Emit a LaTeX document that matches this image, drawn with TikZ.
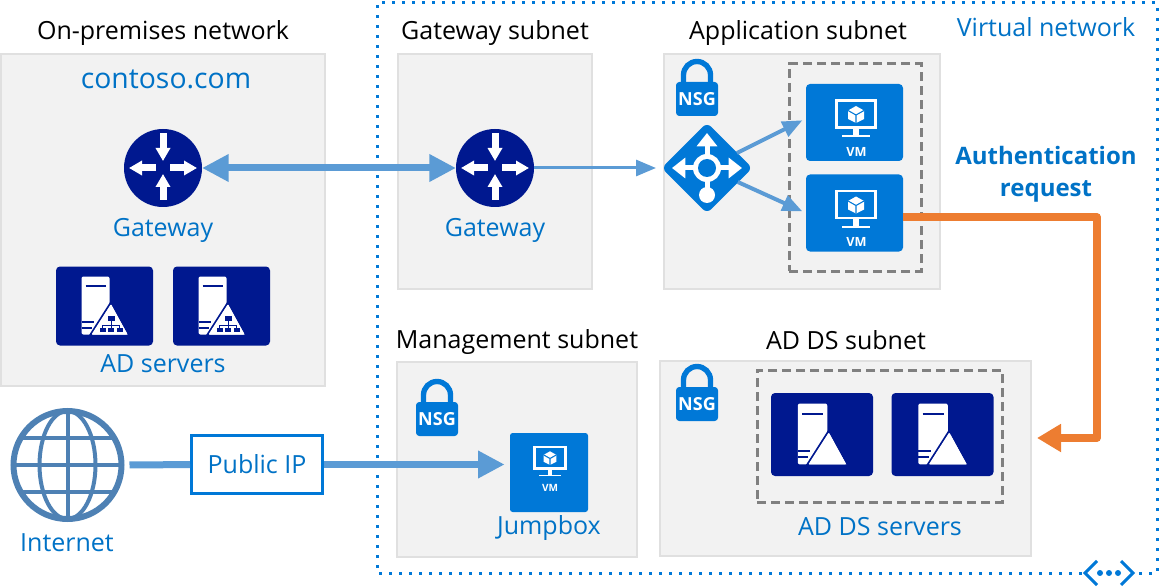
\documentclass[tikz,border=0pt]{standalone}
\usepackage{fontspec}
\setmainfont{Open Sans}
\usetikzlibrary{arrows.meta,shapes.geometric}
\definecolor{azure}{HTML}{0078D7}
\definecolor{navy}{HTML}{00188F}
\definecolor{labelblue}{HTML}{0072C6}
\definecolor{flowblue}{HTML}{5B9BD5}
\definecolor{authorange}{HTML}{ED7D31}
\definecolor{panelgray}{HTML}{F2F2F2}
\definecolor{globeblue}{HTML}{4E81B4}
\tikzset{
    panel/.style={draw=black!12, line width=1pt, fill=panelgray},
    heading/.style={text=black, inner sep=0pt, font=\fontsize{18.75}{20}\selectfont},
    caption/.style={text=labelblue, inner sep=0pt, font=\fontsize{18.75}{20}\selectfont},
    groupbox/.style={draw=black!50, line width=2.25pt, dash pattern=on 7pt off 3.5pt},
    vnetline/.style={azure, line width=2.25pt, dash pattern=on 2.25pt off 5.25pt},
    router/.style={circle, fill=navy, minimum size=58.5pt, inner sep=0pt, outer sep=0pt},
    balancer/.style={diamond, aspect=1, fill=azure, draw=azure, line width=9pt, line join=round, minimum size=55.5pt, inner sep=0pt, outer sep=0pt},
    vmbox/.style={rectangle, rounded corners=3pt, fill=azure, minimum width=72.75pt, minimum height=57.75pt, inner sep=0pt, outer sep=0pt},
    jumpbox/.style={vmbox, rounded corners=2pt, minimum width=58.5pt, minimum height=59.25pt},
    adbox/.style={rectangle, rounded corners=3pt, fill=navy, minimum width=72.75pt, minimum height=59.25pt, inner sep=0pt, outer sep=0pt},
    addsbox/.style={adbox, minimum width=76.5pt, minimum height=62.25pt},
    vmtext/.style={text=white, inner sep=0pt, font=\fontsize{9.5}{10}\selectfont\bfseries},
    nsgbox/.style={rectangle, rounded corners=2.5pt, fill=azure, text=white, minimum width=31.5pt, minimum height=25.5pt, inner sep=0pt, outer sep=0pt, font=\fontsize{13.5}{14}\selectfont\bfseries},
    flowline/.style={flowblue, line width=5.25pt, -{Triangle[length=20pt, width=19.5pt]}},
    thinflow/.style={flowblue, line width=2.25pt, -{Triangle[length=15pt, width=12pt]}},
    pics/shackle/.style={code={
        \draw[azure, line width=4pt] (-13.5, 0) -- (-13.5, -7) arc (180:360:13.5) -- (13.5, 0);
    }},
    pics/routerglyph/.style={code={
        \begin{scope}[white, line width=5.25pt, -{Triangle[length=9.75pt, width=10.5pt]}]
            \draw (0, -35) -- (0, -7);
            \draw (0, 32) -- (0, 6);
            \draw (-7, 0) -- (-34, 0);
            \draw (7, 0) -- (34, 0);
        \end{scope}
    }},
    pics/balancerglyph/.style={code={
        \begin{scope}[white, line width=3.75pt]
            \draw[-{Triangle[length=10pt, width=15pt]}] (0, 0) -- (0, -35);
            \draw[-{Triangle[length=10pt, width=15pt]}] (0, 0) -- (-35, 0);
            \draw[-{Triangle[length=10pt, width=15pt]}] (0, 0) -- (35, 0);
            \draw (0, 0) -- (0, 27);
            \fill (0, 27) circle (8);
            \fill (0, 0) circle (14);
            \fill[azure] (0, 0) circle (9);
        \end{scope}
    }},
    pics/vmglyph/.style={code={
        \draw[white, line width=1.9pt] (-19.5, -22) rectangle (19.5, 5);
        \fill[white] (-3, 6) rectangle (3, 12.5);
        \fill[white] (-14, 12.5) rectangle (14, 14.5);
        \fill[white] (0, -16.5) -- (8, -12) -- (8, -3.5) -- (0, 0.5) -- (-8, -3.5) -- (-8, -12) -- cycle;
        \draw[azure, line width=0.8pt] (-8, -12) -- (0, -7.5) -- (8, -12) (0, -7.5) -- (0, 0.5);
    }},
    pics/adglyph/.style={code={
        \fill[white, rounded corners=1.5pt] (-23, -29.5) rectangle (5, 28.5);
        \draw[navy, line width=1.5pt] (-19, -20) -- (1, -20);
        \draw[navy, line width=1.5pt] (-23, 15.5) -- (-11, 15.5) (-23, 21.5) -- (-13, 21.5);
        \fill[white, draw=navy, line width=1.5pt, line join=round] (6.5, -3.5) -- (25, 29.5) -- (-14.5, 29.5) -- cycle;
        \fill[white, rounded corners=0.75pt] (6.5, -2) -- (23, 28.5) -- (-13, 28.5) -- cycle;
    }},
    pics/netglyph/.style={code={
        \fill[navy] (3, 10) rectangle (10, 15);
        \draw[navy, line width=0.75pt] (6.5, 15) -- (6.5, 22) (-2, 22) -- (-2, 19) -- (15, 19) -- (15, 22);
        \fill[navy] (-5, 22) rectangle (1, 26);
        \fill[navy] (3.5, 22) rectangle (9.5, 26);
        \fill[navy] (12, 22) rectangle (18, 26);
    }},
    pics/globeglyph/.style={code={
        \draw[globeblue, line width=3pt] (0, 0) ellipse (28 and 54);
        \draw[globeblue, line width=3pt] (0, -54) -- (0, 54);
        \draw[globeblue, line width=3pt] (-54, 0) -- (54, 0);
        \draw[globeblue, line width=3pt] (-46.5, -27) -- (46.5, -27);
        \draw[globeblue, line width=3pt] (-46.5, 27) -- (46.5, 27);
    }},
}
\begin{document}
\begin{tikzpicture}[x=0.75pt, y=-0.75pt]
        \useasboundingbox (0, 0) rectangle (1160, 588);

        \draw[panel] (1, 54) rectangle (325, 386);
        \draw[panel] (398, 54) rectangle (592, 289);
        \draw[panel] (664, 54) rectangle (940, 289);
        \draw[panel] (397, 362) rectangle (637, 557);
        \draw[panel] (660, 361) rectangle (1031, 556);
        \draw[vnetline] (1082, 573) -- (377, 573) -- (377, 3) -- (1157, 3) -- (1157, 573) -- (1136, 573);

        \draw[azure, line width=2.25pt] (1097, 561) -- (1085, 573) -- (1097, 585);
        \draw[azure, line width=2.25pt] (1121, 561) -- (1133, 573) -- (1121, 585);
        \fill[azure] (1100, 573) circle (3);
        \fill[azure] (1109, 573) circle (3);
        \fill[azure] (1118, 573) circle (3);

        \node (onpremtitle) at (163, 33.5)[heading] {On-premises network};
        \node (gwtitle) at (495, 33.5)[heading] {Gateway subnet};
        \node (apptitle) at (798, 33.5)[heading] {Application subnet};
        \node (mgmttitle) at (517, 342.5)[heading] {Management subnet};
        \node (addstitle) at (846, 340.5)[heading] {AD DS subnet};
        \node (vnettitle) at (1046, 27)[caption] {Virtual network};
        \node (contoso) at (166, 79.5)[caption, font=\fontsize{21.25}{22}\selectfont] {contoso.com};

        \node (gw1) at (163, 168)[router] {};
        \pic at (gw1) {routerglyph};
        \node (gw1text) at (163, 230.5)[caption] {Gateway};
        \node (gw2) at (495, 168)[router] {};
        \pic at (gw2) {routerglyph};
        \node (gw2text) at (495, 230.5)[caption] {Gateway};

        \node (ad1) at (104.5, 306)[adbox] {};
        \pic at (ad1) {adglyph};
        \pic at (ad1) {netglyph};
        \node (ad2) at (221.5, 306)[adbox] {};
        \pic at (ad2) {adglyph};
        \pic at (ad2) {netglyph};
        \node (adtext) at (163, 364)[caption] {AD servers};

        \node (nsg1) at (697, 99)[nsgbox] {NSG};
        \pic at (nsg1.north) {shackle};
        \node (lb) at (707, 168)[balancer] {};
        \pic at (lb) {balancerglyph};

        \node (vmset) at (855, 167.5)[groupbox, minimum width=99pt, minimum height=155.25pt, inner sep=0pt] {};
        \node (vm1) at (854.5, 122.5)[vmbox] {};
        \pic at (856, 122.5) {vmglyph};
        \node (vm1text) at (856.5, 152)[vmtext] {VM};
        \node (vm2) at (854.5, 213)[vmbox] {};
        \pic at (856, 213) {vmglyph};
        \node (vm2text) at (856.5, 242)[vmtext] {VM};

        \node (nsg2) at (437, 419)[nsgbox] {NSG};
        \pic at (nsg2.north) {shackle};
        \node (jump) at (549, 472.5)[jumpbox] {};
        \pic[scale=0.8] at (550, 464.5) {vmglyph};
        \node (jumpvm) at (550, 488)[vmtext, font=\fontsize{7.5}{8}\selectfont\bfseries] {VM};
        \node (jumptext) at (549, 528.5)[caption] {Jumpbox};

        \node (nsg3) at (697, 404)[nsgbox] {NSG};
        \pic at (nsg3.north) {shackle};
        \node (adset) at (879.5, 436)[groupbox, minimum width=183.75pt, minimum height=99pt, inner sep=0pt] {};
        \node (ads1) at (822, 434.5)[addsbox] {};
        \pic[scale=1.05] at (ads1) {adglyph};
        \node (ads2) at (942.5, 434.5)[addsbox] {};
        \pic[scale=1.05] at (ads2) {adglyph};
        \node (addstext) at (880, 527)[caption] {AD DS servers};

        \node (globe) at (67.5, 465)[circle, draw=globeblue, line width=4.5pt, minimum size=81pt, inner sep=0pt, outer sep=0pt] {};
        \pic at (globe) {globeglyph};
        \node (nettext) at (67, 543)[caption] {Internet};
        \node (pubip) at (257, 464.5)[draw=azure, fill=white, line width=2.25pt, minimum width=98.25pt, minimum height=43.5pt, inner sep=0pt, text=labelblue, font=\fontsize{18.75}{20}\selectfont] {Public IP};

        \node (authtext) at (1046, 174)[text=labelblue, align=center, inner sep=0pt, font=\fontsize{18}{24}\selectfont\bfseries] {Authentication\\request};

        \coordinate (adtip) at (1037, 438);

        \draw[flowline, {Triangle[length=20pt, width=19.5pt]}-{Triangle[length=20pt, width=19.5pt]}] (gw1) -- (gw2);
        \draw[thinflow, shorten >=10.5pt] (gw2) -- (lb);
        \draw[flowblue, line width=3pt, shorten <=4.5pt, shorten >=3pt, -{Triangle[length=15pt, width=12pt]}] (lb) -- ([yshift=3pt]vm1.west);
        \draw[flowblue, line width=3pt, shorten <=4.5pt, shorten >=3pt, -{Triangle[length=15pt, width=12pt]}] (lb) -- (vm2.west);
        \draw[flowblue, line width=5.25pt, shorten <=6pt] (globe) -- (pubip);
        \draw[flowline, shorten >=4pt] (pubip) -- (jump.west |- pubip.east);
        \draw[authorange, line width=5.5pt, line join=round, -{Triangle[length=18pt, width=20pt]}] ([yshift=-3pt]vm2.east) -| (1097, 438) -- (adtip);
    \end{tikzpicture}
\end{document}
